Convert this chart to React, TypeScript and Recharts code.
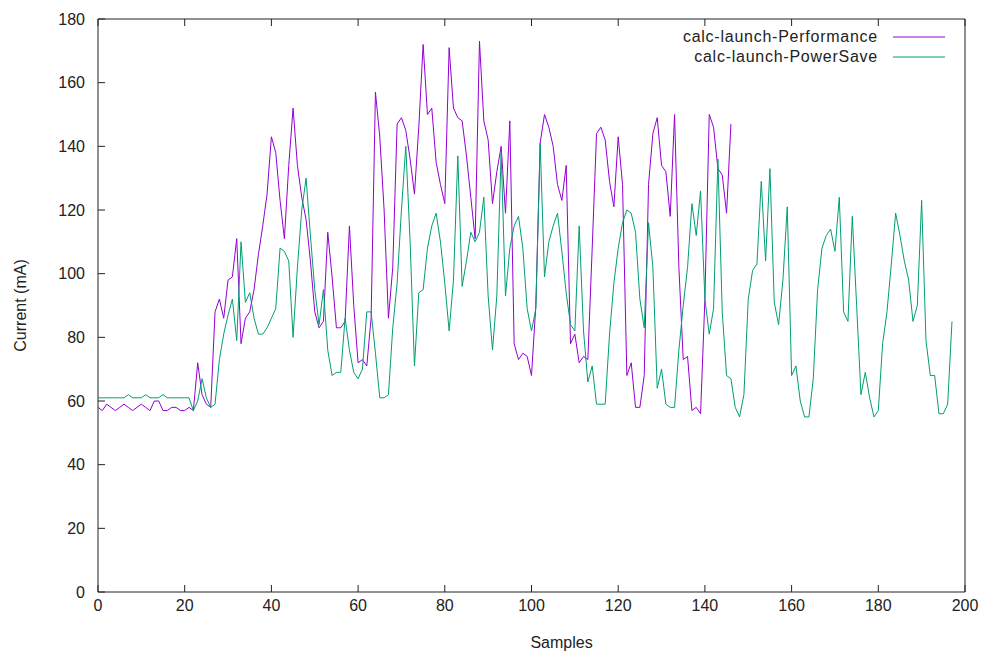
import { LineChart, Line, XAxis, YAxis, Legend, Label } from 'recharts';

const FONT = '"Liberation Sans", Arial, sans-serif';
const PURPLE = '#9400d3';
const GREEN = '#009e73';
const INK = '#222';

const xTicks = [0, 20, 40, 60, 80, 100, 120, 140, 160, 180, 200];
const yTicks = [0, 20, 40, 60, 80, 100, 120, 140, 160, 180];

// calc-launch-Performance, one value per sample (0..146)
const performance = [
  58, 57, 59, 58, 57, 58, 59, 58, 57, 58, 59, 58, 57, 60, 60, 57, 57, 58, 58, 57,
  57, 58, 57, 72, 62, 59, 58, 88, 92, 86, 98, 99, 111, 78, 86, 88, 95, 106, 115, 125,
  143, 138, 123, 111, 134, 152, 134, 124, 117, 104, 88, 83, 85, 113, 99, 83, 83, 85, 115, 90,
  72, 73, 71, 86, 157, 143, 120, 86, 102, 147, 149, 145, 136, 125, 146, 172, 150, 152, 135, 128,
  122, 171, 152, 149, 148, 137, 124, 111, 173, 148, 142, 122, 132, 140, 119, 148, 78, 73, 75, 74,
  68, 90, 141, 150, 146, 140, 128, 123, 134, 78, 81, 72, 74, 73, 108, 144, 146, 142, 129, 121,
  143, 128, 68, 72, 58, 58, 68, 128, 144, 149, 134, 132, 118, 150, 102, 73, 74, 57, 58, 56,
  92, 150, 146, 133, 131, 119, 147,
];

// calc-launch-PowerSave, one value per sample (0..197)
const powerSave = [
  61, 61, 61, 61, 61, 61, 61, 62, 61, 61, 61, 62, 61, 61, 61, 62, 61, 61, 61, 61,
  61, 61, 57, 60, 67, 61, 58, 59, 73, 81, 87, 92, 79, 110, 91, 94, 86, 81, 81, 83,
  86, 89, 108, 107, 104, 80, 102, 120, 130, 112, 95, 84, 95, 76, 68, 69, 69, 86, 76, 69,
  67, 70, 88, 88, 75, 61, 61, 62, 83, 97, 120, 140, 110, 71, 94, 95, 108, 115, 119, 110,
  97, 82, 98, 137, 96, 104, 113, 110, 113, 124, 93, 76, 93, 138, 93, 108, 115, 118, 108, 89,
  82, 89, 141, 99, 110, 115, 119, 107, 94, 84, 82, 115, 82, 66, 71, 59, 59, 59, 81, 97,
  108, 116, 120, 119, 113, 92, 83, 116, 102, 64, 70, 59, 58, 58, 76, 90, 102, 122, 112, 126,
  92, 81, 89, 136, 88, 68, 67, 58, 55, 62, 92, 101, 103, 129, 104, 133, 91, 84, 98, 121,
  68, 71, 60, 55, 55, 67, 95, 108, 112, 114, 107, 124, 88, 85, 118, 90, 62, 69, 61, 55,
  57, 78, 88, 103, 119, 112, 104, 98, 85, 90, 123, 79, 68, 68, 56, 56, 59, 85,
];

const rows = powerSave.map((v, i) => ({
  sample: i,
  perf: i < performance.length ? performance[i] : null,
  save: v,
}));

const tickStyle = { fontSize: 16, fill: INK, fontFamily: FONT };
const blank = () => '';

function LegendBox({ payload }: any) {
  return (
    <div style={{ fontFamily: FONT, fontSize: 16, color: INK, letterSpacing: 0.75 }}>
      {(payload || []).map((entry: any) => (
        <div
          key={entry.value}
          style={{ display: 'flex', justifyContent: 'flex-end', alignItems: 'center', height: 20 }}
        >
          <span>{entry.value}</span>
          <svg width={52} height={4} style={{ marginLeft: 15 }}>
            <line x1={0} x2={52} y1={2} y2={2} stroke={entry.color} strokeWidth={1} />
          </svg>
        </div>
      ))}
    </div>
  );
}

export default function App() {
  return (
    <div style={{ position: 'absolute', left: 0, top: 0, width: 985, height: 656, background: '#fff' }}>
      <LineChart
        width={985}
        height={656}
        data={rows}
        margin={{ top: 18, right: 19, left: 0, bottom: 0 }}
      >
        <XAxis
          dataKey="sample"
          type="number"
          domain={[0, 200]}
          ticks={xTicks}
          height={64}
          stroke={INK}
          tickSize={-7}
          tickMargin={15}
          tick={tickStyle}
        >
          <Label
            content={({ viewBox }: any) => (
              <text
                x={viewBox.x + viewBox.width / 2 + 30}
                y={viewBox.y + 56}
                textAnchor="middle"
                fontSize={16}
                fontFamily={FONT}
                fill={INK}
              >
                Samples
              </text>
            )}
          />
        </XAxis>
        <XAxis
          xAxisId="top"
          orientation="top"
          dataKey="sample"
          type="number"
          domain={[0, 200]}
          ticks={xTicks}
          height={1}
          stroke={INK}
          tickSize={-7}
          tickFormatter={blank}
        />
        <YAxis
          domain={[0, 180]}
          ticks={yTicks}
          width={98}
          stroke={INK}
          tickSize={-7}
          tickMargin={20}
          tick={tickStyle}
        >
          <Label
            content={({ viewBox }: any) => {
              const cx = 26;
              const cy = viewBox.y + viewBox.height / 2;
              return (
                <text
                  x={cx}
                  y={cy}
                  transform={`rotate(-90 ${cx} ${cy})`}
                  textAnchor="middle"
                  fontSize={16}
                  fontFamily={FONT}
                  fill={INK}
                >
                  Current (mA)
                </text>
              );
            }}
          />
        </YAxis>
        <YAxis
          yAxisId="right"
          orientation="right"
          domain={[0, 180]}
          ticks={yTicks}
          width={1}
          stroke={INK}
          tickSize={-7}
          tickFormatter={blank}
        />
        <Legend
          layout="horizontal"
          verticalAlign="middle"
          align="center"
          content={<LegendBox />}
          wrapperStyle={{ position: 'absolute', top: 27, left: 560, width: 385, height: 40 }}
        />
        <Line
          name="calc-launch-Performance"
          dataKey="perf"
          type="linear"
          stroke={PURPLE}
          strokeWidth={1}
          dot={false}
          activeDot={false}
          isAnimationActive={false}
        />
        <Line
          name="calc-launch-PowerSave"
          dataKey="save"
          type="linear"
          stroke={GREEN}
          strokeWidth={1}
          dot={false}
          activeDot={false}
          isAnimationActive={false}
        />
      </LineChart>
    </div>
  );
}
